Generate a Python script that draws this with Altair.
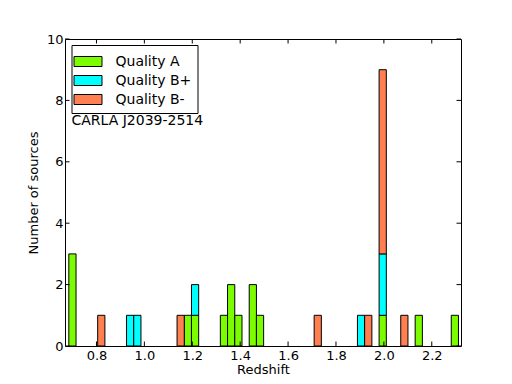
import altair as alt
import pandas as pd

# Histogram bin centres (redshift) and counts for each quality class
redshift_A = [0.6996, 1.1816, 1.2117, 1.3323, 1.3624, 1.3925, 1.4528, 1.4829, 1.9951, 2.1457, 2.2964]
counts_A = [3, 1, 1, 1, 2, 1, 2, 1, 1, 1, 1]
redshift_Bp = [0.9406, 0.9707, 1.2117, 1.9047, 1.9951]
counts_Bp = [1, 1, 1, 1, 2]
redshift_Bm = [0.8201, 1.1515, 1.7239, 1.9348, 1.9951, 2.0855]
counts_Bm = [1, 1, 1, 1, 6, 1]
BIN_WIDTH = 0.03013

categories = ["Quality A", "Quality B+", "Quality B-"]
colors = ["#7CFC00", "#00FFFF", "#FF7F50"]
x_ticks = [0.8, 1.0, 1.2, 1.4, 1.6, 1.8, 2.0, 2.2]
y_ticks = [0, 2, 4, 6, 8, 10]
X_DOMAIN = [0.6686, 2.322]
Y_DOMAIN = [0, 10]

# Build stacked table
rows = []
bottoms = {}
for cat, zs, cs in [(categories[0], redshift_A, counts_A),
                    (categories[1], redshift_Bp, counts_Bp),
                    (categories[2], redshift_Bm, counts_Bm)]:
    for z, c in zip(zs, cs):
        b = bottoms.get(z, 0)
        rows.append({"quality": cat, "x0": z - BIN_WIDTH / 2, "x1": z + BIN_WIDTH / 2,
                     "y0": b, "y1": b + c})
        bottoms[z] = b + c
df = pd.DataFrame(rows)

W, H = 396, 307
TICK = 4.5
xs = alt.Scale(domain=X_DOMAIN, nice=False, zero=False)
ys = alt.Scale(domain=Y_DOMAIN, nice=False, zero=False)
x_axis = alt.Axis(values=x_ticks, format=".1f", title="Redshift", ticks=False,
                  domain=False, grid=False, labelPadding=3, titlePadding=1)
y_axis = alt.Axis(values=y_ticks, format="d", title="Number of sources", ticks=False,
                  domain=False, grid=False, labelPadding=2, titlePadding=6)

bars = alt.Chart(df).mark_bar(stroke="black", strokeWidth=1, opacity=1).encode(
    x=alt.X("x0:Q", scale=xs, axis=x_axis, title="Redshift"),
    x2="x1:Q",
    y=alt.Y("y0:Q", scale=ys, axis=y_axis, title="Number of sources"),
    y2="y1:Q",
    color=alt.Color("quality:N",
                    scale=alt.Scale(domain=categories, range=colors),
                    legend=alt.Legend(title=None, orient="none", legendX=6.5, legendY=6,
                                      fillColor="white", strokeColor="black", padding=6,
                                      symbolType="M-1.4,-0.5H1.4V0.5H-1.4Z", symbolSize=400,
                                      symbolStrokeColor="black", symbolStrokeWidth=1,
                                      symbolOpacity=1, labelFontSize=14, labelOffset=17,
                                      rowPadding=1, labelColor="black")),
)

xt = pd.DataFrame({"t": x_ticks})
yt = pd.DataFrame({"t": y_ticks})

tick_bottom = alt.Chart(xt).mark_rule(color="black", strokeWidth=1).encode(
    x=alt.X("t:Q", scale=xs, axis=x_axis, title="Redshift"), y=alt.value(H), y2=alt.value(H - TICK))
tick_top = alt.Chart(xt).mark_rule(color="black", strokeWidth=1).encode(
    x=alt.X("t:Q", scale=xs, axis=x_axis, title="Redshift"), y=alt.value(0), y2=alt.value(TICK))
tick_left = alt.Chart(yt).mark_rule(color="black", strokeWidth=1).encode(
    y=alt.Y("t:Q", scale=ys, axis=y_axis, title="Number of sources"), x=alt.value(0), x2=alt.value(TICK))
tick_right = alt.Chart(yt).mark_rule(color="black", strokeWidth=1).encode(
    y=alt.Y("t:Q", scale=ys, axis=y_axis, title="Number of sources"), x=alt.value(W), x2=alt.value(W - TICK))

label = alt.Chart(pd.DataFrame({"txt": ["CARLA J2039-2514"]})).mark_text(
    align="left", baseline="middle", fontSize=14, color="black").encode(
    text="txt:N", x=alt.value(6.5), y=alt.value(82))

chart = alt.layer(bars, tick_bottom, tick_top, tick_left, tick_right, label).properties(
    width=W, height=H,
    autosize=alt.AutoSizeParams(type="none"),
    padding={"left": 57, "top": 31, "right": 40, "bottom": 38},
).configure_view(stroke="black", strokeWidth=1).configure_axis(
    labelFont="DejaVu Sans", titleFont="DejaVu Sans", labelFontSize=13, titleFontSize=13,
    titleFontWeight="normal", labelColor="black", titleColor="black"
).configure_legend(labelFont="DejaVu Sans").configure_text(font="DejaVu Sans")

chart.save("out.html", embed_options={"renderer": "svg", "actions": False})
